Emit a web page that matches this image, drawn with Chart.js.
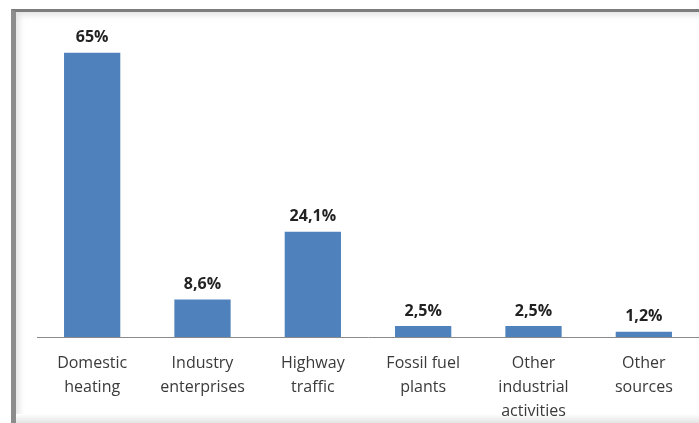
<!DOCTYPE html>
<html>
<head>
<meta charset="utf-8">
<script src="https://cdn.jsdelivr.net/npm/chart.js@4"></script>
<style>
  html, body { margin: 0; padding: 0; background: #fff; }
  #wrap { position: relative; width: 699px; height: 423px; overflow: hidden; }
  #frame {
    position: absolute; left: 11px; top: 9px; width: 720px; height: 440px;
    border-left: 5px solid #8c8c8c; border-top: 3px solid #7c7c7c;
    box-shadow: inset 3px 3px 6px rgba(0,0,0,0.12);
  }
  #bottomShade {
    position: absolute; left: 16px; right: 0; top: 414px; height: 9px;
    background: linear-gradient(#fff, #e4e4e4);
  }
  canvas { position: absolute; left: 0; top: 0; }
</style>
</head>
<body>
<div id="wrap">
  <div id="frame"></div>
  <div id="bottomShade"></div>
  <canvas id="chart" width="699" height="423"></canvas>
</div>
<script>
const categories = [
  ["Domestic", "heating"],
  ["Industry", "enterprises"],
  ["Highway", "traffic"],
  ["Fossil fuel", "plants"],
  ["Other", "industrial", "activities"],
  ["Other", "sources"]
]
const shares = [65, 8.6, 24.1, 2.5, 2.5, 1.2]
const shareLabels = shares.map(v => String(v).replace(".", ",") + "%")

const font = "'Open Sans', 'Noto Sans', sans-serif"

// value labels on top of each bar
const barLabels = {
  id: "barLabels",
  afterDatasetsDraw(chart) {
    const ctx = chart.ctx
    const meta = chart.getDatasetMeta(0)
    ctx.save()
    ctx.font = "bold 16px " + font
    ctx.fillStyle = "#222"
    ctx.textAlign = "center"
    ctx.textBaseline = "middle"
    meta.data.forEach((bar, i) => {
      ctx.fillText(shareLabels[i], bar.x, bar.y - 15)
    })
    ctx.restore()
  }
}

new Chart(document.getElementById("chart"), {
  type: "bar",
  data: {
    labels: categories,
    datasets: [{
      data: shares,
      backgroundColor: "#4f81bd",
      borderWidth: 0,
      barPercentage: 1,
      categoryPercentage: 0.51
    }]
  },
  options: {
    responsive: false,
    animation: false,
    devicePixelRatio: 1,
    layout: { padding: { left: 37, right: 0, top: 31, bottom: 0 } },
    plugins: { legend: { display: false }, tooltip: { enabled: false } },
    scales: {
      x: {
        afterFit(scale) { scale.height = 86 },
        grid: { display: false, drawTicks: false },
        border: { display: true, color: "#8a8a8a", width: 1 },
        ticks: {
          autoSkip: false, maxRotation: 0, padding: 14,
          color: "#3a3a3a",
          font: { family: font, size: 16, lineHeight: 1.5 }
        }
      },
      y: { display: false, min: 0, max: 70 }
    }
  },
  plugins: [barLabels]
})
</script>
</body>
</html>
